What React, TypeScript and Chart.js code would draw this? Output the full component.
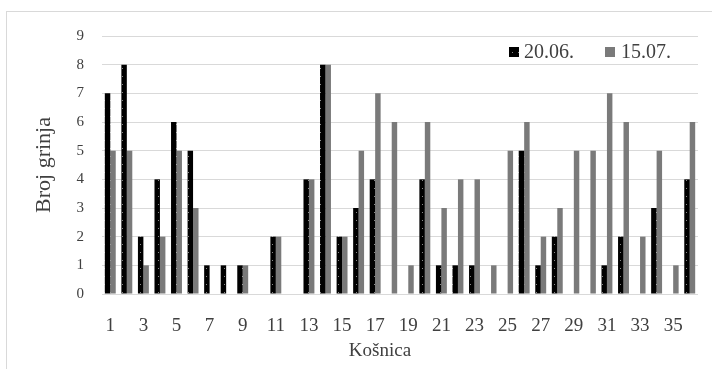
import React, { useEffect, useRef } from 'react';
import { Chart, registerables } from 'chart.js';

Chart.register(...registerables);

const categories = ['1','2','3','4','5','6','7','8','9','10','11','12','13','14','15','16','17','18','19','20','21','22','23','24','25','26','27','28','29','30','31','32','33','34','35','36'];
const series1Label = '20.06.';
const series2Label = '15.07.';
const series1 = [7,8,2,4,6,5,1,1,1,0,2,0,4,8,2,3,4,0,0,4,1,1,1,0,0,5,1,2,0,0,1,2,0,3,0,4];
const series2 = [5,5,1,2,5,3,0,0,1,0,2,0,4,8,2,5,7,6,1,6,3,4,4,1,5,6,2,3,5,5,7,6,2,5,1,6];
const yTicks = [0,1,2,3,4,5,6,7,8,9];
const yTitle = 'Broj grinja';
const xTitle = 'Košnica';

const BLACK = '#000000';
const GRAY = '#7a7a7a';
const TEXT = '#404040';
const SERIF = '"Liberation Serif", "Times New Roman", serif';

function makePattern(): CanvasPattern | string {
  const c = document.createElement('canvas');
  c.width = 6;
  c.height = 8;
  const g = c.getContext('2d');
  if (!g) return BLACK;
  g.fillStyle = BLACK;
  g.fillRect(0, 0, 6, 8);
  g.fillStyle = '#8a8a8a';
  g.fillRect(2, 4, 1, 1);
  const p = g.createPattern(c, 'repeat');
  return p || BLACK;
}

export default function App() {
  const ref = useRef<HTMLCanvasElement | null>(null);

  useEffect(() => {
    const canvas = ref.current;
    if (!canvas) return;
    const pattern = makePattern();

    const extrasPlugin = {
      id: 'extras',
      afterDraw(chart: any) {
        const { ctx, chartArea } = chart;
        const r = chartArea.right;
        const cy = chartArea.top + 16;
        ctx.save();
        // legend
        ctx.font = `20px ${SERIF}`;
        ctx.textBaseline = 'middle';
        ctx.textAlign = 'left';
        ctx.fillStyle = pattern as any;
        ctx.fillRect(r - 189, cy - 5, 10, 10);
        ctx.fillStyle = TEXT;
        ctx.fillText(series1Label, r - 174, cy + 1);
        ctx.fillStyle = GRAY;
        ctx.fillRect(r - 93, cy - 5, 10, 10);
        ctx.fillStyle = TEXT;
        ctx.fillText(series2Label, r - 77, cy + 1);
        // x axis title
        ctx.font = `19px ${SERIF}`;
        ctx.textAlign = 'center';
        ctx.fillText(xTitle, chartArea.left + 278, chartArea.bottom + 57);
        ctx.restore();
      },
    };

    const chart = new Chart(canvas, {
      type: 'bar',
      data: {
        labels: categories,
        datasets: [
          {
            label: series1Label,
            data: series1,
            backgroundColor: pattern as any,
            categoryPercentage: 0.66,
            barPercentage: 1.0,
          },
          {
            label: series2Label,
            data: series2,
            backgroundColor: GRAY,
            categoryPercentage: 0.66,
            barPercentage: 1.0,
          },
        ],
      },
      options: {
        responsive: false,
        animation: false,
        layout: { padding: { left: 27, right: 14, top: 36, bottom: 7 } },
        plugins: {
          legend: { display: false },
          tooltip: { enabled: false },
        },
        scales: {
          x: {
            grid: { display: false, drawTicks: false },
            border: { display: false },
            ticks: {
              autoSkip: false,
              maxRotation: 0,
              minRotation: 0,
              padding: 21,
              color: TEXT,
              font: { family: SERIF, size: 19 },
              callback: (_v: any, i: number) => (i % 2 === 0 ? categories[i] : ''),
            },
            title: { display: false },
            afterFit: (scale: any) => {
              scale.height = 68;
            },
          },
          y: {
            min: 0,
            max: 9,
            afterBuildTicks: (scale: any) => {
              scale.ticks = yTicks.map((v) => ({ value: v }));
            },
            grid: { color: '#d9d9d9', lineWidth: 1, drawTicks: false },
            border: { display: false },
            ticks: {
              padding: 18,
              color: TEXT,
              font: { family: SERIF, size: 15 },
            },
            title: {
              display: true,
              text: yTitle,
              color: TEXT,
              font: { family: SERIF, size: 22 },
              padding: { top: 4, bottom: 0 },
            },
            afterFit: (scale: any) => {
              scale.width = 75;
            },
          },
        },
      },
      plugins: [extrasPlugin],
    });

    return () => {
      chart.destroy();
    };
  }, []);

  return (
    <div style={{ position: 'fixed', left: 0, top: 0, width: 712, height: 369, background: '#fff', overflow: 'hidden' }}>
      <div style={{ position: 'absolute', left: 6, top: 11, width: 800, height: 500, border: '1px solid #d9d9d9' }} />
      <canvas ref={ref} width={712} height={369} style={{ position: 'absolute', left: 0, top: 0 }} />
    </div>
  );
}
